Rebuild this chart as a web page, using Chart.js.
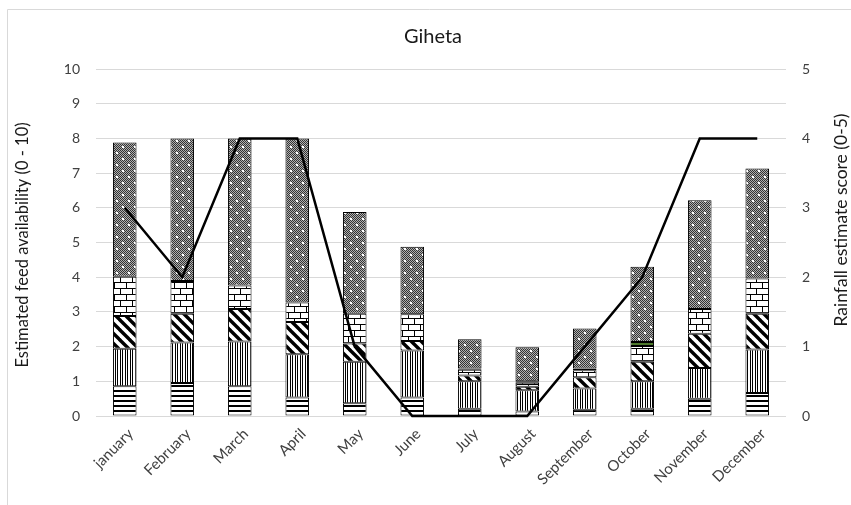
<!DOCTYPE html>
<html>
<head>
<meta charset="utf-8">
<script src="https://cdn.jsdelivr.net/npm/chart.js@4/dist/chart.umd.min.js"></script>
<style>
  html, body { margin: 0; padding: 0; background: #fff; }
  #wrap { width: 851px; height: 505px; position: relative; }
</style>
</head>
<body>
<div id="wrap"><canvas id="c" width="851" height="505"></canvas></div>
<script>
// Months on the category axis
const months = ['january', 'February', 'March', 'April', 'May', 'June', 'July',
                'August', 'September', 'October', 'November', 'December'];

// Feed availability per source (stacked, 0 - 10 scale), bottom to top
const source1 = [0.86, 0.95, 0.86, 0.53, 0.37, 0.53, 0.21, 0.13, 0.18, 0.21, 0.50, 0.66];
const source2 = [1.08, 1.17, 1.29, 1.25, 1.19, 1.36, 0.79, 0.61, 0.61, 0.79, 0.88, 1.26];
const source3 = [0.94, 0.83, 0.93, 0.93, 0.53, 0.27, 0.17, 0.10, 0.33, 0.56, 0.99, 1.03];
const source4 = [1.13, 0.94, 0.68, 0.56, 0.86, 0.77, 0.16, 0.12, 0.20, 0.46, 0.71, 1.01];
const source5 = [0, 0, 0, 0, 0, 0, 0.04, 0.04, 0.05, 0.11, 0, 0];
const source6 = [3.87, 4.11, 4.24, 4.73, 2.93, 1.95, 0.84, 0.98, 1.15, 2.17, 3.14, 3.17];

// Rainfall estimate score (0 - 5 scale)
const rainfall = [3, 2, 4, 4, 1, 0, 0, 0, 1, 2, 4, 4];

// Axis ticks
const feedTicks = [0, 1, 2, 3, 4, 5, 6, 7, 8, 9, 10];
const rainTicks = [0, 1, 2, 3, 4, 5];

const FONT = 'Lato, "Open Sans", sans-serif';
const TEXT = '#404040';

function makePattern(w, h, draw) {
  const cv = document.createElement('canvas');
  cv.width = w; cv.height = h;
  const g = cv.getContext('2d');
  draw(g, w, h);
  return g.createPattern(cv, 'repeat');
}

// Horizontal bands
const patH = makePattern(4, 5, (g, w, h) => {
  g.fillStyle = '#fff'; g.fillRect(0, 0, w, h);
  g.fillStyle = '#000'; g.fillRect(0, 0, w, 2);
});
// Dense vertical lines
const patV = makePattern(5, 4, (g, w, h) => {
  g.fillStyle = '#fff'; g.fillRect(0, 0, w, h);
  g.fillStyle = '#000'; g.fillRect(0, 0, 1, h); g.fillRect(2, 0, 1, h);
});
// Wide downward diagonals
const patD = makePattern(10, 10, (g, w, h) => {
  g.fillStyle = '#fff'; g.fillRect(0, 0, w, h);
  g.strokeStyle = '#000'; g.lineWidth = 3.4;
  for (const o of [-10, 0, 10]) {
    g.beginPath(); g.moveTo(o - 1, -1); g.lineTo(o + w + 1, h + 1); g.stroke();
  }
});
// Brick wall
const patB = makePattern(12, 12, (g, w, h) => {
  g.fillStyle = '#fff'; g.fillRect(0, 0, w, h);
  g.fillStyle = '#000';
  g.fillRect(0, 0, w, 1);
  g.fillRect(0, 6, w, 1);
  g.fillRect(0, 0, 1, 6);
  g.fillRect(6, 6, 1, 6);
});
// Stippled grey with white dots
const patDot = makePattern(12, 12, (g, w, h) => {
  for (let y = 0; y < h; y++) {
    for (let x = 0; x < w; x++) {
      g.fillStyle = ((x + y) % 2 === 0) ? '#333' : '#b0b0b0';
      g.fillRect(x, y, 1, 1);
    }
  }
  g.fillStyle = '#fff';
  g.fillRect(2, 2, 2, 2);
  g.fillRect(8, 8, 2, 2);
});

function barSet(label, data, fill) {
  return {
    type: 'bar', label, data, yAxisID: 'y', order: 1,
    backgroundColor: fill, borderColor: '#000', borderWidth: 1,
    borderSkipped: false, barPercentage: 0.41, categoryPercentage: 1.0
  };
}

function rotatedText(ctx, text, x, y, size) {
  ctx.save();
  ctx.fillStyle = '#1a1a1a';
  ctx.textAlign = 'center';
  ctx.textBaseline = 'middle';
  ctx.font = size + 'px ' + FONT;
  ctx.translate(x, y);
  ctx.rotate(-Math.PI / 2);
  ctx.fillText(text, 0, 0);
  ctx.restore();
}

// Titles and outer frame
const decorations = {
  id: 'decorations',
  beforeDraw(chart) {
    const ctx = chart.ctx;
    ctx.save();
    ctx.strokeStyle = '#d9d9d9';
    ctx.lineWidth = 1;
    ctx.beginPath();
    ctx.moveTo(7.5, 505); ctx.lineTo(7.5, 9.5); ctx.lineTo(851, 9.5);
    ctx.stroke();
    ctx.restore();
  },
  afterDraw(chart) {
    const ctx = chart.ctx;
    ctx.save();
    ctx.fillStyle = '#1a1a1a';
    ctx.textAlign = 'center';
    ctx.textBaseline = 'middle';
    ctx.font = '20px ' + FONT;
    ctx.fillText('Giheta', 433, 37);
    ctx.restore();

    rotatedText(ctx, 'Estimated feed availability (0 - 10)', 23, 245, 16.5);
    rotatedText(ctx, 'Rainfall estimate score (0-5)', 841, 220, 17.5);
  }
};

new Chart(document.getElementById('c'), {
  data: {
    labels: months,
    datasets: [
      {
        type: 'line', label: 'Rainfall', data: rainfall, yAxisID: 'y1', order: 0,
        borderColor: '#000', borderWidth: 2.5, pointRadius: 0, tension: 0,
        fill: false, clip: false
      },
      barSet('Feed source 1', source1, patH),
      barSet('Feed source 2', source2, patV),
      barSet('Feed source 3', source3, patD),
      barSet('Feed source 4', source4, patB),
      barSet('Feed source 5', source5, '#4e7a2c'),
      barSet('Feed source 6', source6, patDot)
    ]
  },
  options: {
    responsive: false,
    animation: false,
    devicePixelRatio: 1,
    layout: { padding: { top: 69, left: 0, right: 0, bottom: 0 } },
    plugins: { legend: { display: false }, tooltip: { enabled: false }, title: { display: false } },
    scales: {
      x: {
        stacked: true,
        grid: { display: false },
        border: { display: false },
        ticks: {
          color: TEXT, font: { family: FONT, size: 15 },
          minRotation: 45, maxRotation: 45, autoSkip: false, padding: 1, labelOffset: 6
        },
        afterFit(s) { s.height = 89; }
      },
      y: {
        stacked: true, position: 'left', min: 0, max: 10,
        afterBuildTicks(s) { s.ticks = feedTicks.map(v => ({ value: v })); },
        grid: { color: '#d9d9d9', drawTicks: false },
        border: { display: false },
        ticks: { color: TEXT, font: { family: FONT, size: 14 }, padding: 16 },
        afterFit(s) { s.width = 96; }
      },
      y1: {
        position: 'right', min: 0, max: 5,
        afterBuildTicks(s) { s.ticks = rainTicks.map(v => ({ value: v })); },
        grid: { display: false, drawTicks: false },
        border: { display: false },
        ticks: { color: TEXT, font: { family: FONT, size: 14 }, padding: 16 },
        afterFit(s) { s.width = 65; }
      }
    }
  },
  plugins: [decorations]
});
</script>
</body>
</html>
